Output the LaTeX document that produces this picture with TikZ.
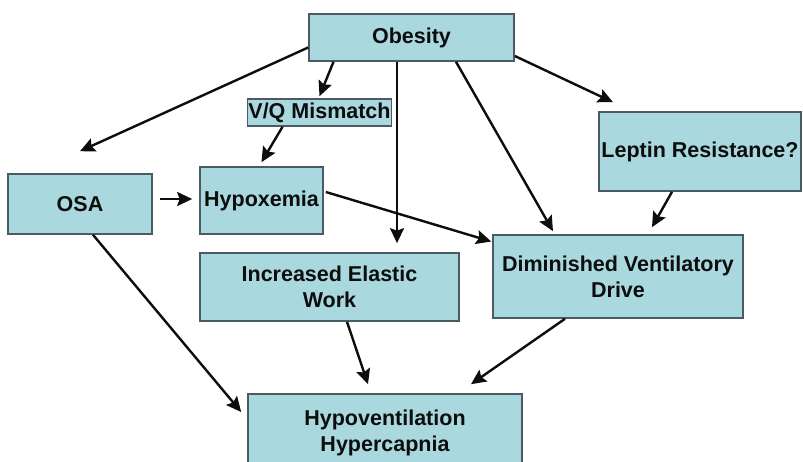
\documentclass[tikz,border=0pt]{standalone}
\usepackage{fontspec}
\setmainfont{Liberation Sans}
\usepackage{xcolor}
\usepackage{tikz}
\usetikzlibrary{arrows.meta}
\definecolor{boxfill}{HTML}{A9D9DE}
\definecolor{boxline}{HTML}{4B5A63}
\definecolor{ink}{HTML}{0D0D0D}
\tikzset{
  box/.style={draw=boxline, fill=boxfill, line width=1.6pt, inner sep=1pt,
    align=center, text=ink, font=\bfseries\fontsize{21.5}{26}\selectfont},
  arr/.style={draw=ink, line width=2.4pt, -{Stealth[length=15pt,width=14pt,inset=2.5pt]}},
}

\begin{document}
\begin{tikzpicture}[x=1pt,y=-1pt]
  \clip (0,0) rectangle (803,462);
  \fill[white] (0,0) rectangle (803,462);
  % boxes
  \node[box,minimum width=205pt,minimum height=47pt] (obes) at (411.5,37.5) {Obesity};
  \node[box,minimum width=143pt,minimum height=27pt] (vq) at (319.5,112.5) {V/Q Mismatch};
  \node[box,minimum width=144pt,minimum height=60pt] (osa) at (80,204) {OSA};
  \node[box,minimum width=123pt,minimum height=67pt] (hypox) at (261.5,200.5) {Hypoxemia};
  \node[box,minimum width=259pt,minimum height=68pt] (elastic) at (329.5,287) {Increased Elastic\\Work};
  \node[box,minimum width=202pt,minimum height=79pt] (leptin) at (700,151.5) {Leptin Resistance?};
  \node[box,minimum width=250pt,minimum height=83pt] (drive) at (618,276.5) {Diminished Ventilatory\\Drive};
  \node[box,minimum width=274pt,minimum height=78pt] (hypo) at (385,433) {Hypoventilation\\Hypercapnia};
  % arrows out of obesity
  \coordinate (down) at ([xshift=-14.5pt]obes.south);
  \draw[arr] ([yshift=-10pt]obes.west) -- ([yshift=22pt]osa.north);
  \draw[arr] ([xshift=-78pt]obes.south) -- ([yshift=2pt]vq.north);
  \draw[arr,shorten >=9pt] (down) -- (down |- elastic.north);
  \draw[arr] ([xshift=44.5pt]obes.south) -- ([xshift=-65pt,yshift=3pt]drive.north);
  \draw[arr] ([yshift=-18.5pt]obes.east) -- ([xshift=-87pt,yshift=9pt]leptin.north);
  % middle row
  \draw[arr] ([xshift=-37pt]vq.south) -- ([yshift=4pt]hypox.north);
  \draw[arr] ([xshift=7pt,yshift=5pt]osa.east) -- ([xshift=-7pt,yshift=1.5pt]hypox.west);
  \draw[arr] ([xshift=2pt,yshift=8.5pt]hypox.east) -- ([xshift=-1pt,yshift=35pt]drive.west);
  \draw[arr] ([xshift=-28pt]leptin.south) -- ([xshift=34pt,yshift=7pt]drive.north);
  % into hypoventilation
  \draw[arr] ([xshift=13pt]osa.south) -- ([xshift=-6pt,yshift=21pt]hypo.west);
  \draw[arr] ([xshift=17.5pt]elastic.south) -- ([xshift=-17pt,yshift=9pt]hypo.north);
  \draw[arr] ([xshift=-53pt]drive.south) -- ([xshift=86pt,yshift=9pt]hypo.north);
\end{tikzpicture}
\end{document}
